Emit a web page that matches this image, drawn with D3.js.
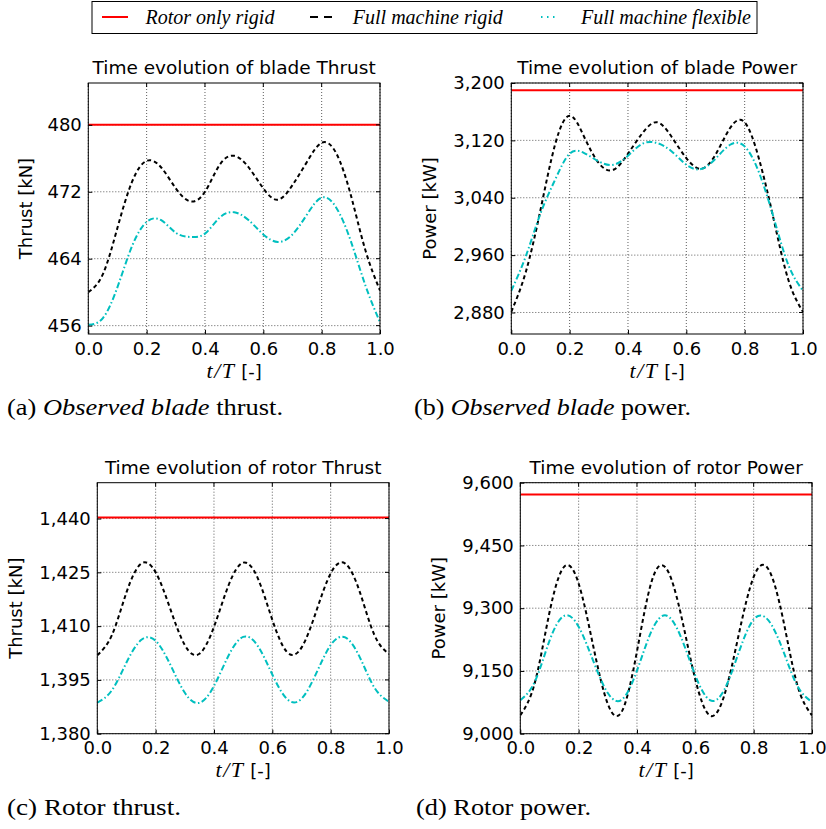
<!DOCTYPE html>
<html>
<head>
<meta charset="utf-8">
<script src="https://cdn.jsdelivr.net/npm/d3@7"></script>
<style>body{margin:0;background:#fff}</style>
</head>
<body>
<svg id="chart" width="826" height="829"></svg>
<script>
// ---------------- DATA ----------------
const tGrid = [0, 0.05, 0.1, 0.15, 0.2, 0.25, 0.3, 0.35, 0.4, 0.45, 0.5,
               0.55, 0.6, 0.65, 0.7, 0.75, 0.8, 0.85, 0.9, 0.95, 1.0];
const xTicks = [0, 0.2, 0.4, 0.6, 0.8, 1.0];
const seriesNames = ["Rotor only rigid", "Full machine rigid", "Full machine flexible"];

// (a) blade thrust [kN]
const bladeThrustRotorOnly = 480;
const bladeThrustRigid = [460.0, 462.15, 467.7, 473.2, 475.7, 474.9, 472.4, 470.85, 472.0, 475.2, 476.3,
                          474.9, 472.4, 471.05, 472.8, 475.6, 477.85, 476.6, 471.6, 465.0, 460.2];
const bladeThrustFlexible = [456.1, 456.9, 460.6, 465.5, 468.4, 468.6, 467.1, 466.6, 467.0, 468.9, 469.55,
                             468.6, 466.9, 466.0, 466.9, 469.3, 471.3, 470.1, 466.1, 460.8, 456.4];
const bladeThrustTicks = [456, 464, 472, 480];
const bladeThrustDomain = [455, 485];

// (b) blade power [kW]
const bladePowerRotorOnly = 3190;
const bladePowerRigid = [2881, 2936.9, 3023, 3114, 3154.5, 3124.7, 3088.3, 3079, 3101.4, 3130.3, 3145.2,
                         3124.7, 3095.3, 3080.4, 3100, 3137.2, 3145.2, 3093, 3009, 2925.2, 2881];
const bladePowerFlexible = [2910.3, 2958.8, 3018, 3065, 3101.4, 3102.3, 3090.6, 3086, 3098.6, 3115.3, 3116.3,
                            3104.6, 3086, 3080, 3094.4, 3113.9, 3111.6, 3074.3, 3011.4, 2946.2, 2910.3];
const bladePowerTicks = [2880, 2960, 3040, 3120, 3200];
const bladePowerDomain = [2850, 3200];

// (c) rotor thrust [kN]
const rotorThrustRotorOnly = 1440.3;
const rotorThrustRigid = [1401.9, 1407.5, 1419.4, 1427.4, 1425.0, 1414.85, 1404.7, 1402.3, 1409.8, 1421.4, 1427.7,
                          1423.4, 1411.75, 1402.8, 1404.0, 1414.0, 1424.7, 1427.45, 1419.5, 1407.5, 1402.2];
const rotorThrustFlexible = [1388.65, 1392.1, 1399.85, 1406.1, 1405.9, 1399.3, 1391.4, 1388.6, 1393.3, 1401.8, 1407.0,
                             1404.5, 1396.5, 1389.7, 1389.75, 1396.75, 1404.7, 1406.85, 1401.3, 1392.85, 1388.9];
const rotorThrustTicks = [1380, 1395, 1410, 1425, 1440];
const rotorThrustDomain = [1380, 1450];

// (d) rotor power [kW]
const rotorPowerRotorOnly = 9572;
const rotorPowerRigid = [9044, 9122.2, 9289.8, 9398.9, 9359, 9209.6, 9071, 9055.8, 9197, 9363.6, 9395.5,
                         9287, 9129.8, 9043.4, 9093.2, 9240.7, 9374.7, 9393.9, 9276.4, 9115.7, 9044];
const rotorPowerFlexible = [9080, 9124.6, 9222, 9281.7, 9255.8, 9174.1, 9097.1, 9082.4, 9150.8, 9245.5, 9282.6,
                            9232.3, 9139.1, 9080.2, 9105.9, 9196.4, 9273.1, 9271.3, 9200.4, 9114.2, 9076];
const rotorPowerTicks = [9000, 9150, 9300, 9450, 9600];
const rotorPowerDomain = [9000, 9600];

const panels = [
  {title: "Time evolution of blade Thrust", ylabel: "Thrust [kN]", domain: bladeThrustDomain, ticks: bladeThrustTicks,
   rotorOnly: bladeThrustRotorOnly, rigid: bladeThrustRigid, flexible: bladeThrustFlexible,
   caption: [["(a) ", false], ["Observed blade", true], [" thrust.", false]]},
  {title: "Time evolution of blade Power", ylabel: "Power [kW]", domain: bladePowerDomain, ticks: bladePowerTicks,
   rotorOnly: bladePowerRotorOnly, rigid: bladePowerRigid, flexible: bladePowerFlexible,
   caption: [["(b) ", false], ["Observed blade", true], [" power.", false]]},
  {title: "Time evolution of rotor Thrust", ylabel: "Thrust [kN]", domain: rotorThrustDomain, ticks: rotorThrustTicks,
   rotorOnly: rotorThrustRotorOnly, rigid: rotorThrustRigid, flexible: rotorThrustFlexible,
   caption: [["(c) Rotor thrust.", false]]},
  {title: "Time evolution of rotor Power", ylabel: "Power [kW]", domain: rotorPowerDomain, ticks: rotorPowerTicks,
   rotorOnly: rotorPowerRotorOnly, rigid: rotorPowerRigid, flexible: rotorPowerFlexible,
   caption: [["(d) Rotor power.", false]]}
];

// ---------------- LAYOUT ----------------
const layout = [
  {left: 88.3,  top: 83,    ylabelX: 25,  capX: 7,   capY: 415, capW: 276},
  {left: 511.3, top: 83,    ylabelX: 429, capX: 414, capY: 415, capW: 277},
  {left: 97.3,  top: 482.7, ylabelX: 15,  capX: 7,   capY: 815, capW: 174},
  {left: 520.3, top: 482.7, ylabelX: 438, capX: 416, capY: 815, capW: 175}
];
const PW = 291.7, PH = 251;
const SANS = "'DejaVu Sans', 'Bitstream Vera Sans', sans-serif";
const SERIF = "'Liberation Serif', 'Times New Roman', serif";
const RED = "#ff0000", BLACK = "#000000", CYAN = "#00bfbf";

const svg = d3.select("#chart");
svg.append("rect").attr("width", 826).attr("height", 829).attr("fill", "#fff");

panels.forEach((p, i) => {
  const L = layout[i];
  const g = svg.append("g").attr("transform", `translate(${L.left},${L.top})`);
  const x = d3.scaleLinear().domain([0, 1]).range([0, PW]);
  const y = d3.scaleLinear().domain(p.domain).range([PH, 0]);

  // grid
  const grid = g.append("g").attr("stroke", "#333").attr("stroke-width", 0.8).attr("stroke-dasharray", "1,2");
  grid.selectAll(".gx").data(xTicks).join("line")
    .attr("x1", d => x(d)).attr("x2", d => x(d)).attr("y1", 0).attr("y2", PH);
  grid.selectAll(".gy").data(p.ticks).join("line")
    .attr("x1", 0).attr("x2", PW).attr("y1", d => y(d)).attr("y2", d => y(d));

  // clip
  const clipId = "clip" + i;
  g.append("clipPath").attr("id", clipId).append("rect").attr("width", PW).attr("height", PH);
  const plot = g.append("g").attr("clip-path", `url(#${clipId})`);

  const line = d3.line().x((d, k) => x(tGrid[k])).y(d => y(d)).curve(d3.curveNatural);

  // rotor only rigid (constant)
  plot.append("line").attr("x1", x(0)).attr("x2", x(1))
    .attr("y1", y(p.rotorOnly)).attr("y2", y(p.rotorOnly))
    .attr("stroke", RED).attr("stroke-width", 2);
  // full machine rigid
  plot.append("path").datum(p.rigid).attr("d", line).attr("fill", "none")
    .attr("stroke", BLACK).attr("stroke-width", 2).attr("stroke-dasharray", "4,3");
  // full machine flexible
  plot.append("path").datum(p.flexible).attr("d", line).attr("fill", "none")
    .attr("stroke", CYAN).attr("stroke-width", 2).attr("stroke-dasharray", "6,2.5,1.5,2.5");

  // axes
  const ax = g.append("g").attr("transform", `translate(0,${PH})`)
    .call(d3.axisBottom(x).tickValues(xTicks).tickFormat(d3.format(".1f")).tickSize(-4).tickPadding(8));
  const ay = g.append("g")
    .call(d3.axisLeft(y).tickValues(p.ticks).tickFormat(d3.format(",")).tickSize(-4).tickPadding(6.5));
  [ax, ay].forEach(a => {
    a.select(".domain").remove();
    a.attr("font-family", SANS).attr("font-size", 18);
    a.selectAll("text").attr("fill", "#000");
    a.selectAll("line").attr("stroke", "#000");
  });
  // top/right ticks
  g.append("g").attr("stroke", "#000").selectAll("line").data(xTicks).join("line")
    .attr("x1", d => x(d)).attr("x2", d => x(d)).attr("y1", 0).attr("y2", 4);
  g.append("g").attr("stroke", "#000").selectAll("line").data(p.ticks).join("line")
    .attr("x1", PW).attr("x2", PW - 4).attr("y1", d => y(d)).attr("y2", d => y(d));

  // frame
  g.append("rect").attr("width", PW).attr("height", PH).attr("fill", "none")
    .attr("stroke", "#000").attr("stroke-width", 1);

  // title
  g.append("text").attr("x", PW / 2).attr("y", -9).attr("text-anchor", "middle")
    .attr("font-family", SANS).attr("font-size", 18.5).text(p.title);

  // y label
  g.append("text").attr("transform", `translate(${L.ylabelX - L.left + 6.5},${PH / 2}) rotate(-90)`)
    .attr("text-anchor", "middle").attr("font-family", SANS).attr("font-size", 18).text(p.ylabel);

  // x label
  const xl = g.append("text").attr("x", PW / 2).attr("y", PH + 43.5).attr("text-anchor", "middle");
  xl.append("tspan").attr("font-family", SERIF).attr("font-style", "italic").attr("font-size", 22)
    .attr("letter-spacing", 1.5).text("t/T");
  xl.append("tspan").attr("font-family", SANS).attr("font-size", 18).text(" [-]");

  // caption
  const cap = svg.append("text").attr("x", L.capX).attr("y", L.capY)
    .attr("font-family", SERIF).attr("font-size", 24)
    .attr("textLength", L.capW).attr("lengthAdjust", "spacingAndGlyphs");
  p.caption.forEach(([txt, it]) => {
    cap.append("tspan").attr("font-style", it ? "italic" : "normal").text(txt);
  });
});

// ---------------- LEGEND ----------------
const lg = svg.append("g");
lg.append("rect").attr("x", 92).attr("y", 1.5).attr("width", 665).attr("height", 32)
  .attr("fill", "#fff").attr("stroke", "#000").attr("stroke-width", 1);
const legendItems = [
  {name: seriesNames[0], color: RED, dash: null, x1: 102, x2: 128, tx: 145.5},
  {name: seriesNames[1], color: BLACK, dash: "8,6", x1: 310, x2: 334, tx: 352.8},
  {name: seriesNames[2], color: CYAN, dash: "1.5,4.5", x1: 541, x2: 559, tx: 581}
];
legendItems.forEach(it => {
  const l = lg.append("line").attr("x1", it.x1).attr("x2", it.x2).attr("y1", 17).attr("y2", 17)
    .attr("stroke", it.color).attr("stroke-width", 2);
  if (it.dash) l.attr("stroke-dasharray", it.dash);
  lg.append("text").attr("x", it.tx).attr("y", 23.5).attr("font-family", SERIF)
    .attr("font-style", "italic").attr("font-size", 20).text(it.name);
});
</script>
</body>
</html>
